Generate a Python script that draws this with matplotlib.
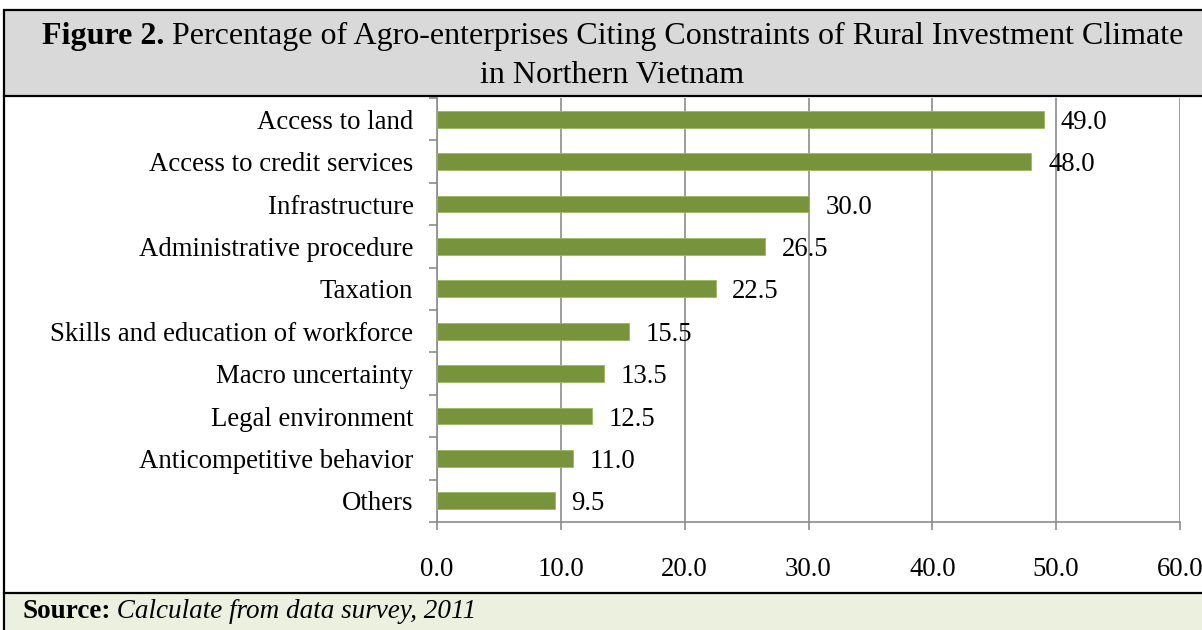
import matplotlib
matplotlib.use("Agg")
import matplotlib.pyplot as plt
from matplotlib.patches import Rectangle
from matplotlib.lines import Line2D
from matplotlib.ticker import FixedLocator

categories = [
    "Access to land",
    "Access to credit services",
    "Infrastructure",
    "Administrative procedure",
    "Taxation",
    "Skills and education of workforce",
    "Macro uncertainty",
    "Legal environment",
    "Anticompetitive behavior",
    "Others",
]
values = [49.0, 48.0, 30.0, 26.5, 22.5, 15.5, 13.5, 12.5, 11.0, 9.5]
x_ticks = [0, 10, 20, 30, 40, 50, 60]

plt.rcParams["font.family"] = ["Liberation Serif", "DejaVu Serif"]

W, H = 1202, 630
fig = plt.figure(figsize=(W / 100, H / 100), dpi=100)

def fx(px):
    return px / W

def fy(py):
    return 1 - py / H

# Title band and source band
fig.patches.append(Rectangle((fx(4), fy(96)), fx(1260) - fx(4), fy(10) - fy(96),
                             transform=fig.transFigure, facecolor="#d9d9d9",
                             edgecolor="black", linewidth=1.6, zorder=0))
fig.patches.append(Rectangle((fx(4), fy(640)), fx(1260) - fx(4), fy(593) - fy(640),
                             transform=fig.transFigure, facecolor="#ebf1de",
                             edgecolor="black", linewidth=1.6, zorder=0))
fig.lines.append(Line2D([fx(4), fx(4)], [fy(96), fy(593)], transform=fig.transFigure,
                        color="black", linewidth=1.6))

ax = fig.add_axes([fx(437), fy(522), fx(1180) - fx(437), fy(98) - fy(522)])
gray = "#8c8c8c"
fs = 19.3
y = list(range(len(categories)))
ax.barh(y, values, height=0.4, color="#77933c", edgecolor="#9ab85f", linewidth=0.6, zorder=3)
for yi, v in zip(y, values):
    ax.text(v + 1.35, yi, f"{v:.1f}", va="center_baseline", ha="left", fontsize=fs,
            color="black", zorder=4)

ax.set_xlim(0, 60)
ax.set_ylim(len(categories) - 0.5, -0.5)
ax.xaxis.set_major_locator(FixedLocator(x_ticks))
ax.set_xticklabels([f"{t:.1f}" for t in x_ticks], fontsize=fs)
ax.set_yticks(y)
ax.set_yticklabels(categories, fontsize=fs)
ax.yaxis.set_minor_locator(FixedLocator([i - 0.5 for i in range(len(categories) + 1)]))
ax.tick_params(axis="y", which="major", length=0, pad=17)
ax.tick_params(axis="y", which="minor", length=6, color=gray, width=1.2)
ax.tick_params(axis="x", which="major", length=6, color=gray, width=1.2, pad=19)
ax.grid(axis="x", color=gray, linewidth=1.2, zorder=0)
ax.set_axisbelow(True)
for s in ["top", "right"]:
    ax.spines[s].set_visible(False)
for s in ["left", "bottom"]:
    ax.spines[s].set_color(gray)
    ax.spines[s].set_linewidth(1.2)
ax.set_facecolor("none")

# Title text with bold lead-in
fig.canvas.draw()
renderer = fig.canvas.get_renderer()
tfs = 23
t1a = fig.text(fx(42), fy(44), "Figure 2.", fontsize=tfs, fontweight="bold", ha="left", va="baseline")
w = t1a.get_window_extent(renderer).width
fig.text(fx(42 + w), fy(44), " Percentage of Agro-enterprises Citing Constraints of Rural Investment Climate",
         fontsize=tfs, ha="left", va="baseline")
fig.text(fx(612), fy(83), "in Northern Vietnam", fontsize=tfs, ha="center", va="baseline")

s1 = fig.text(fx(22), fy(618), "Source:", fontsize=19.5, fontweight="bold", ha="left", va="baseline")
w2 = s1.get_window_extent(renderer).width
fig.text(fx(22 + w2), fy(618), " Calculate from data survey, 2011", fontsize=19.5, style="italic",
         ha="left", va="baseline")

fig.savefig("out.png", dpi=100, facecolor="white")
